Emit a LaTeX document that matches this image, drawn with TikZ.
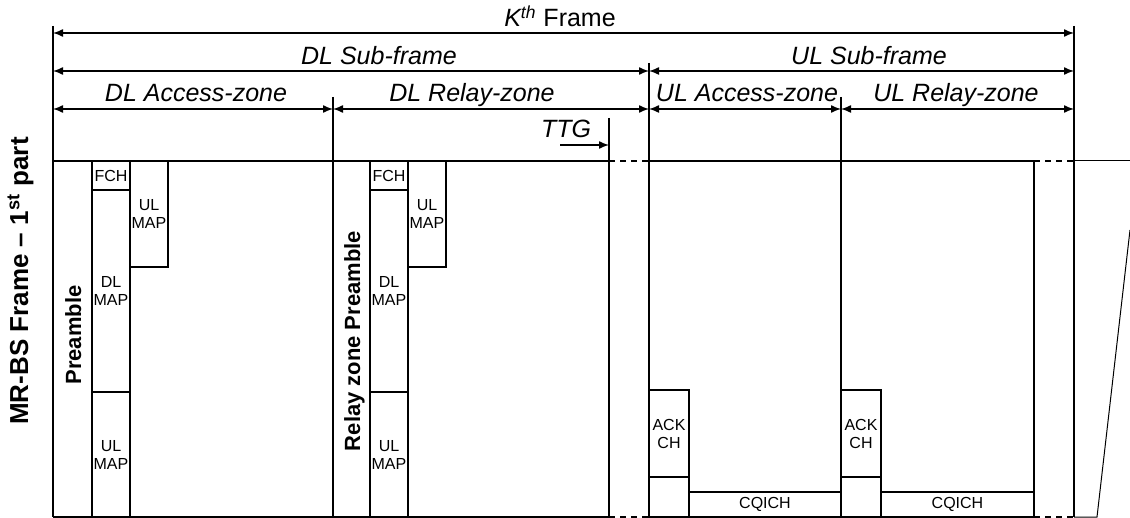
\documentclass[tikz,border=0pt]{standalone}
\usepackage{fontspec}
\setmainfont{Liberation Sans}
\usetikzlibrary{arrows.meta,positioning}

\begin{document}
\begin{tikzpicture}[
    x=0.5pt, y=-0.5pt,
    line width=0.8pt,
    lbl/.style={anchor=base, inner sep=0pt, font=\fontsize{12.5}{15}\selectfont\itshape},
    small/.style={inner sep=0pt, align=center, font=\fontsize{8}{9}\selectfont},
    vlbl/.style={anchor=base, rotate=90, inner sep=0pt, font=\fontsize{11}{13}\selectfont\bfseries},
    dim/.style={{Latex[length=5pt,width=4pt]}-{Latex[length=5pt,width=4pt]}, line width=0.7pt},
    gap/.style={dash pattern=on 3pt off 2.5pt}
]
    \useasboundingbox (0,0) rectangle (1130,518);

    % zone boundaries
    \coordinate (fTop) at (53,26);    \coordinate (fBot) at (53,517);
    \coordinate (aTop) at (333,97);   \coordinate (aBot) at (333,517);
    \coordinate (tTop) at (609,118);  \coordinate (tBot) at (609,517);
    \coordinate (dTop) at (649,63);   \coordinate (dBot) at (649,517);
    \coordinate (uTop) at (841,97);   \coordinate (uBot) at (841,517);
    \coordinate (rTop) at (1034,161); \coordinate (rBot) at (1034,517);
    \coordinate (gTop) at (1074,26);  \coordinate (gBot) at (1074,517);
    \foreach \b in {f,a,t,d,u,r,g}
        \draw (\b Top) -- (\b Bot);

    % dimension arrows
    \coordinate (k1) at (53,33);   \coordinate (k2) at (1074,33);
    \coordinate (s1) at (53,71);   \coordinate (s2) at (649,71);   \coordinate (s3) at (1074,71);
    \coordinate (z1) at (53,109);  \coordinate (z2) at (333,109);  \coordinate (z3) at (649,109);
    \coordinate (z4) at (841,109); \coordinate (z5) at (1074,109);
    \draw[dim] (k1) -- (k2);
    \draw[dim] (s1) -- (s2);
    \draw[dim] (s2) -- (s3);
    \draw[dim] (z1) -- (z2);
    \draw[dim] (z2) -- (z3);
    \draw[dim] (z3) -- (z4);
    \draw[dim] (z4) -- (z5);

    \node[lbl] (kframe) at (560,27) {\textit{K}\textsuperscript{\textit{th}}\upshape{} Frame};
    \node[lbl] (dlsub) at (379,65) {DL Sub-frame};
    \node[lbl] (ulsub) at (869,65) {UL Sub-frame};
    \node[lbl] (dlacc) at (196,102) {DL Access-zone};
    \node[lbl] (dlrel) at (472,102) {DL Relay-zone};
    \node[lbl] (ulacc) at (747,102) {UL Access-zone};
    \node[lbl] (ulrel) at (956,102) {UL Relay-zone};
    \node[lbl] (ttg) at (566,138) {TTG};
    \coordinate (ttgA) at (560,145);
    \coordinate (ttgB) at (609,145);
    \draw[-{Latex[length=5pt,width=4pt]}, line width=0.7pt] (ttgA) -- (ttgB);

    % frame top and bottom edges
    \coordinate (eA) at (53,161);   \coordinate (eB) at (609,161);  \coordinate (eC) at (649,161);
    \coordinate (eD) at (1034,161); \coordinate (eE) at (1074,161); \coordinate (eF) at (1130,161);
    \coordinate (bA) at (53,517);   \coordinate (bB) at (609,517);  \coordinate (bC) at (649,517);
    \coordinate (bD) at (1034,517); \coordinate (bE) at (1074,517); \coordinate (bF) at (1097,517);
    \coordinate (cut) at (1130,230);
    \draw (eA) -- (eB);  \draw[gap] (eB) -- (eC);  \draw (eC) -- (eD);  \draw[gap] (eD) -- (eE);
    \draw[line width=0.5pt] (eE) -- (eF);
    \draw (bA) -- (bB);  \draw[gap] (bB) -- (bC);  \draw (bC) -- (bD);  \draw[gap] (bD) -- (bE);
    \draw[line width=0.5pt] (bE) -- (bF) -- (cut);

    \node[vlbl, font=\fontsize{13}{15}\selectfont\bfseries] (mrbs) at (28,281) {MR-BS Frame -- 1\textsuperscript{st} part};

    % DL access zone
    \node[vlbl] (pre1) at (81,335) {Preamble};
    \draw (92,161) rectangle node[small] (fch1) {FCH} (130,190);
    \draw (92,190) rectangle node[small] (dlmap1) {DL\\MAP} (130,392);
    \draw (92,392) rectangle node[small] (ulmapA1) {UL\\MAP} (130,517);
    \draw (130,161) rectangle node[small] (ulmapB1) {UL\\MAP} (168,267);

    % DL relay zone
    \node[vlbl] (pre2) at (360,341) {Relay zone Preamble};
    \draw (370,161) rectangle node[small] (fch2) {FCH} (408,190);
    \draw (370,190) rectangle node[small] (dlmap2) {DL\\MAP} (408,392);
    \draw (370,392) rectangle node[small] (ulmapA2) {UL\\MAP} (408,517);
    \draw (408,161) rectangle node[small] (ulmapB2) {UL\\MAP} (446,267);

    % UL access zone
    \draw (649,390) rectangle node[small] (ack1) {ACK\\CH} (689,477);
    \draw (649,477) rectangle (689,517);
    \draw (689,492) rectangle node[small] (cqi1) {CQICH} (841,517);

    % UL relay zone
    \draw (841,390) rectangle node[small] (ack2) {ACK\\CH} (881,477);
    \draw (841,477) rectangle (881,517);
    \draw (881,492) rectangle node[small] (cqi2) {CQICH} (1034,517);
\end{tikzpicture}
\end{document}
